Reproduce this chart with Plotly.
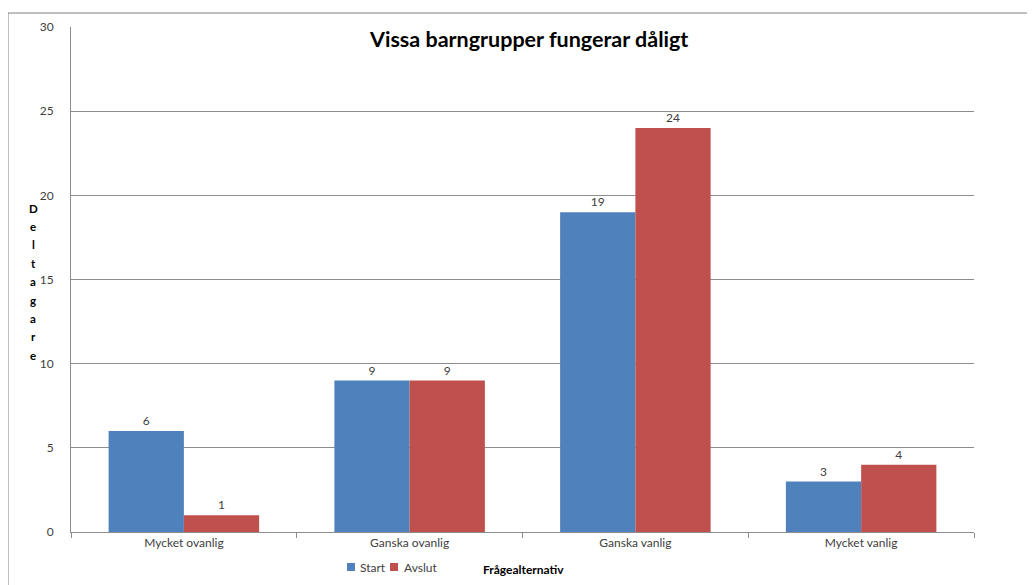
import plotly.graph_objects as go

categories = ["Mycket ovanlig", "Ganska ovanlig", "Ganska vanlig", "Mycket vanlig"]
start_values = [6, 9, 19, 3]
avslut_values = [1, 9, 24, 4]
y_ticks = [0, 5, 10, 15, 20, 25, 30]
title_text = "Vissa barngrupper fungerar dåligt"
x_title = "Frågealternativ"
y_title = "Deltagare"
series_names = ["Start", "Avslut"]
series_colors = ["#4F81BD", "#C0504D"]

FONT = "Lato, Liberation Sans, sans-serif"
TXT = "#404040"

fig = go.Figure()
for name, vals, col in zip(series_names, [start_values, avslut_values], series_colors):
    fig.add_trace(go.Bar(name=name, x=categories, y=vals, marker_color=col,
                         marker_line_width=0,
                         text=vals, textposition="outside",
                         textfont=dict(family=FONT, size=12, color=TXT), cliponaxis=False,
                         showlegend=False))

# page body has an 8px margin; screen coords = figure coords + 8
OFF = 8
W, H = 1035, 585
# plot area in screen coords: x 71..974, y 27..532
L, R, T, B = 71 - OFF, W - (974 - OFF), 27 - OFF, H - (532 - OFF)
pw, ph = W - L - R, H - T - B

def px(x):
    return (x - OFF - L) / pw

def py(y):
    return (H - B - (y - OFF)) / ph

annotations = [
    dict(text="<b>" + title_text + "</b>", xref="paper", yref="paper",
         x=px(528), y=py(39), xanchor="center", yanchor="middle", showarrow=False,
         font=dict(family=FONT, size=21.5, color="black")),
    dict(text="<b>" + x_title + "</b>", xref="paper", yref="paper",
         x=px(523), y=py(569), xanchor="center", yanchor="middle", showarrow=False,
         font=dict(family=FONT, size=12, color="black")),
]
# stacked vertical axis title letters
for i, ch in enumerate(y_title):
    annotations.append(dict(text="<b>" + ch + "</b>", xref="paper", yref="paper",
                            x=px(33), y=py(208 + i * 18.4), xanchor="center", yanchor="middle",
                            showarrow=False, font=dict(family=FONT, size=11.5, color="black")))

shapes = [
    dict(type="rect", xref="paper", yref="paper", x0=px(8), x1=px(1060), y0=py(620), y1=py(13),
         line=dict(color="#808080", width=1), fillcolor="rgba(0,0,0,0)", layer="below"),
]
# compact Excel-style legend
legend_pos = [(347, 358), (390, 402)]
for (sx, tx), name, col in zip(legend_pos, series_names, series_colors):
    shapes.append(dict(type="rect", xref="paper", yref="paper", x0=px(sx), x1=px(sx + 8),
                       y0=py(571), y1=py(563), line=dict(width=0), fillcolor=col))
    annotations.append(dict(text=name, xref="paper", yref="paper", x=px(tx), y=py(567),
                            xanchor="left", yanchor="middle", showarrow=False,
                            font=dict(family=FONT, size=12, color=TXT)))

fig.update_layout(
    width=W, height=H,
    margin=dict(l=L, r=R, t=T, b=B, pad=0, autoexpand=False),
    paper_bgcolor="white", plot_bgcolor="white",
    barmode="group", bargap=1/3, bargroupgap=0,
    font=dict(family=FONT, size=12, color=TXT),
    showlegend=False,
    xaxis=dict(showline=True, linecolor="#8c8c8c", linewidth=1, ticks="outside",
               tickson="boundaries", ticklen=5, tickcolor="#8c8c8c", automargin=False,
               tickfont=dict(family=FONT, size=12, color=TXT), showgrid=False),
    yaxis=dict(range=[0, 30], tickvals=y_ticks, showline=True, linecolor="#8c8c8c",
               linewidth=1, showgrid=True, gridcolor="#8c8c8c", gridwidth=1,
               ticks="", ticklabelstandoff=14, automargin=False,
               tickfont=dict(family=FONT, size=12, color=TXT), zeroline=False),
    annotations=annotations,
    shapes=shapes,
)

fig.write_html("out.html")
